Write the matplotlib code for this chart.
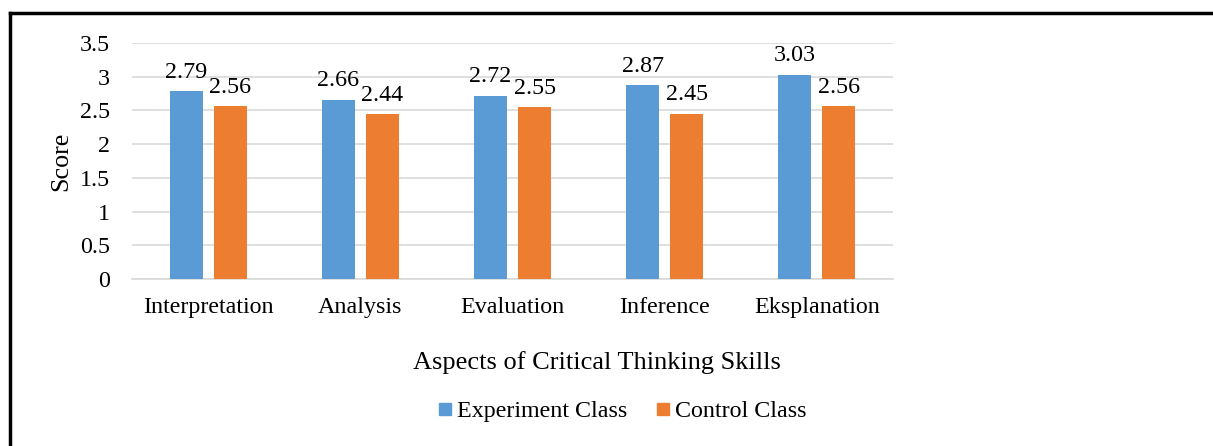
import matplotlib
matplotlib.use("Agg")
import matplotlib.pyplot as plt
from matplotlib.lines import Line2D
import numpy as np

categories = ["Interpretation", "Analysis", "Evaluation", "Inference", "Eksplanation"]
experiment = [2.79, 2.66, 2.72, 2.87, 3.03]
control = [2.56, 2.44, 2.55, 2.45, 2.56]
yticks = [0, 0.5, 1, 1.5, 2, 2.5, 3, 3.5]
ytick_labels = ["0", "0.5", "1", "1.5", "2", "2.5", "3", "3.5"]

plt.rcParams['font.family'] = ['Liberation Serif', 'DejaVu Serif']
FS = 17.3
blue = "#5B9BD5"
orange = "#ED7D31"

W, H = 1213, 446
fig = plt.figure(figsize=(W / 100, H / 100), dpi=100)
ax = fig.add_axes([132 / W, 1 - 279 / H, (893 - 132) / W, (279 - 43) / H])

x = np.arange(len(categories))
bw = 0.217
off = 0.145
b1 = ax.bar(x - off, experiment, bw, color=blue, label="Experiment Class", zorder=3)
b2 = ax.bar(x + off, control, bw, color=orange, label="Control Class", zorder=3)
ax.bar_label(b1, labels=[f"{v:.2f}" for v in experiment], padding=6, fontsize=FS)
ax.bar_label(b2, labels=[f"{v:.2f}" for v in control], padding=6, fontsize=FS)

ax.set_xlim(-0.5, len(categories) - 0.5)
ax.set_ylim(0, 3.5)
ax.set_yticks(yticks)
ax.set_yticklabels(ytick_labels, fontsize=FS)
ax.set_xticks(x)
ax.set_xticklabels(categories, fontsize=FS)
ax.tick_params(axis='both', length=0)
ax.tick_params(axis='x', pad=13)
ax.tick_params(axis='y', pad=16)
ax.grid(axis='y', color='#D9D9D9', linewidth=1.2, zorder=0)
for s in ['top', 'right', 'left']:
    ax.spines[s].set_visible(False)
ax.spines['bottom'].set_color('#D9D9D9')
ax.spines['bottom'].set_linewidth(1.2)

ax.set_ylabel("Score", fontsize=FS + 1.5, labelpad=5)
fig.text(597 / W, 1 - 363 / H, "Aspects of Critical Thinking Skills", fontsize=FS + 1.7,
         ha='center', va='center')

leg = fig.legend(handles=[
    Line2D([], [], marker='s', linestyle='none', color=blue, markersize=9),
    Line2D([], [], marker='s', linestyle='none', color=orange, markersize=9)],
    labels=["Experiment Class", "Control Class"],
    loc='center', bbox_to_anchor=(620 / W, 1 - 411 / H), ncol=2, frameon=False,
    fontsize=FS, handletextpad=0.0, columnspacing=1.0, handlelength=1.0)

# outer frame (left, top)
fig.add_artist(Line2D([9.5 / W, 9.5 / W], [0, 1 - 13 / H], transform=fig.transFigure,
                      color='black', linewidth=2.5))
fig.add_artist(Line2D([9.5 / W, 1], [1 - 13 / H, 1 - 13 / H], transform=fig.transFigure,
                      color='black', linewidth=2.5))

fig.savefig("out.png", dpi=100)
